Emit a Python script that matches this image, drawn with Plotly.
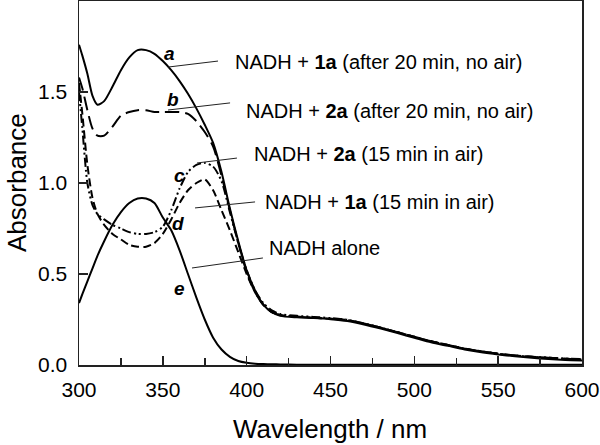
import plotly.graph_objects as go

wavelength = [300, 302, 305, 308, 311, 315, 320, 325, 330, 335, 340, 345, 350, 355, 360,
              365, 370, 375, 380, 385, 390, 395, 400, 405, 410, 415, 420, 430, 440, 450,
              460, 470, 480, 490, 500, 510, 520, 530, 540, 550, 560, 570, 580, 590, 600]

abs_a = [1.76, 1.70, 1.60, 1.48, 1.43, 1.45, 1.53, 1.62, 1.69, 1.73, 1.73, 1.71, 1.67, 1.62, 1.56,
         1.49, 1.41, 1.32, 1.22, 1.06, 0.86, 0.68, 0.52, 0.41, 0.33, 0.29, 0.27, 0.262, 0.258, 0.252,
         0.242, 0.223, 0.20, 0.175, 0.15, 0.125, 0.105, 0.085, 0.07, 0.058, 0.048, 0.04, 0.033, 0.028, 0.025]

abs_b = [1.58, 1.52, 1.40, 1.30, 1.26, 1.26, 1.31, 1.37, 1.39, 1.40, 1.40, 1.39, 1.39, 1.39, 1.39,
         1.38, 1.34, 1.28, 1.20, 1.04, 0.85, 0.67, 0.51, 0.40, 0.33, 0.29, 0.275, 0.266, 0.26, 0.254,
         0.247, 0.228, 0.205, 0.18, 0.155, 0.13, 0.11, 0.09, 0.075, 0.062, 0.052, 0.045, 0.04, 0.035, 0.032]

abs_c = [1.50, 1.30, 1.00, 0.88, 0.83, 0.80, 0.77, 0.75, 0.73, 0.72, 0.72, 0.73, 0.76, 0.85, 0.97,
         1.06, 1.10, 1.11, 1.09, 1.01, 0.84, 0.67, 0.52, 0.41, 0.34, 0.30, 0.28, 0.27, 0.264, 0.258,
         0.248, 0.228, 0.205, 0.18, 0.155, 0.13, 0.11, 0.09, 0.075, 0.062, 0.052, 0.045, 0.04, 0.035, 0.032]

abs_d = [1.55, 1.38, 1.10, 0.92, 0.83, 0.77, 0.72, 0.69, 0.66, 0.65, 0.65, 0.67, 0.72, 0.80, 0.89,
         0.96, 1.00, 1.02, 0.96, 0.85, 0.74, 0.62, 0.50, 0.40, 0.33, 0.29, 0.275, 0.266, 0.26, 0.254,
         0.247, 0.228, 0.205, 0.18, 0.155, 0.13, 0.11, 0.09, 0.075, 0.062, 0.052, 0.045, 0.04, 0.035, 0.032]

abs_e = [0.34, 0.39, 0.46, 0.53, 0.60, 0.68, 0.77, 0.84, 0.89, 0.915, 0.915, 0.89, 0.81, 0.74, 0.63,
         0.50, 0.37, 0.25, 0.15, 0.085, 0.045, 0.022, 0.012, 0.007, 0.005, 0.004, 0.003, 0.002, 0.002, 0.002,
         0.002, 0.002, 0.002, 0.002, 0.002, 0.002, 0.002, 0.002, 0.002, 0.002, 0.002, 0.002, 0.002, 0.002, 0.002]

series = [
    ("a", abs_a, "solid"),
    ("b", abs_b, "14px,6px"),
    ("c", abs_c, "9px,3px,2px,3px,2px,3px"),
    ("d", abs_d, "8px,4px"),
    ("e", abs_e, "solid"),
]

curve_letters = ["a", "b", "c", "d", "e"]
letter_pos_x = [354, 356, 360, 359, 360]
letter_pos_y = [1.71, 1.46, 1.04, 0.78, 0.42]

label_texts = [
    "NADH + <b>1a</b> (after 20 min, no air)",
    "NADH + <b>2a</b> (after 20 min, no air)",
    "NADH + <b>2a</b> (15 min in air)",
    "NADH + <b>1a</b> (15 min in air)",
    "NADH alone",
]
label_x = [391.8, 398.4, 403.2, 409.7, 412.1]
label_y = [1.665, 1.396, 1.159, 0.896, 0.643]

leader_x0 = [353.1, 353.1, 370.4, 369.2, 367.4]
leader_y0 = [1.637, 1.401, 1.110, 0.863, 0.533]
leader_x1 = [382.9, 390.1, 394.2, 405.0, 409.7]
leader_y1 = [1.670, 1.440, 1.137, 0.896, 0.588]

x_title = "Wavelength / nm"
y_title = "Absorbance"

FONT = "Liberation Sans, Arial, sans-serif"

fig = go.Figure()
for name, ys, dash in series:
    fig.add_trace(go.Scatter(
        x=wavelength, y=ys, mode="lines", name=name,
        line=dict(color="black", width=2, dash=dash, shape="spline", smoothing=0.7),
        showlegend=False, hoverinfo="skip",
    ))

for i in range(5):
    fig.add_shape(type="line", x0=leader_x0[i], y0=leader_y0[i], x1=leader_x1[i], y1=leader_y1[i],
                  xref="x", yref="y", line=dict(color="#222", width=1))
    fig.add_annotation(x=letter_pos_x[i], y=letter_pos_y[i], xref="x", yref="y",
                       text="<b><i>%s</i></b>" % curve_letters[i], showarrow=False,
                       font=dict(family=FONT, size=19, color="black"),
                       xanchor="center", yanchor="middle")
    fig.add_annotation(x=label_x[i], y=label_y[i], xref="x", yref="y",
                       text=label_texts[i], showarrow=False,
                       font=dict(family=FONT, size=20, color="black"),
                       xanchor="left", yanchor="middle")

W, H = 600, 445
L, R, T, B = 79, 18, 1, 80
pw, ph = W - L - R, H - T - B
fig.add_annotation(x=(330 - L) / pw, y=(H - B - 429) / ph, xref="paper", yref="paper",
                   text=x_title, showarrow=False, font=dict(family=FONT, size=26, color="black"),
                   xanchor="center", yanchor="middle")
fig.add_annotation(x=(17 - L) / pw, y=(H - B - 183) / ph, xref="paper", yref="paper",
                   text=y_title, showarrow=False, textangle=-90,
                   font=dict(family=FONT, size=26, color="black"),
                   xanchor="center", yanchor="middle")

fig.update_layout(
    width=W, height=H,
    margin=dict(l=L, r=R, t=T, b=B, autoexpand=False),
    paper_bgcolor="white", plot_bgcolor="white",
    font=dict(family=FONT, color="black"),
    hovermode=False,
)
fig.update_xaxes(
    range=[300, 600], tickvals=[300, 350, 400, 450, 500, 550, 600],
    ticks="inside", ticklen=9, tickwidth=1.5, tickcolor="#222",
    minor=dict(tickvals=[325, 375, 425, 475, 525, 575], ticks="inside", ticklen=7, tickwidth=1.5, tickcolor="#222"),
    showline=True, linewidth=1.5, linecolor="#222", mirror=True,
    showgrid=False, zeroline=False, automargin=False,
    tickfont=dict(size=21, family=FONT),
    ticklabelstandoff=5,
)
fig.update_yaxes(
    range=[0, 2.0], tickvals=[0.0, 0.5, 1.0, 1.5], ticktext=["0.0", "0.5", "1.0", "1.5"],
    ticks="inside", ticklen=9, tickwidth=1.5, tickcolor="#222",
    showline=True, linewidth=1.5, linecolor="#222", mirror=True,
    showgrid=False, zeroline=False, automargin=False,
    tickfont=dict(size=21, family=FONT),
    ticklabelstandoff=6,
)

fig.write_html("out.html", config={"displayModeBar": False, "staticPlot": True},
               post_script="document.body.style.margin='0';document.body.style.padding='0';")
